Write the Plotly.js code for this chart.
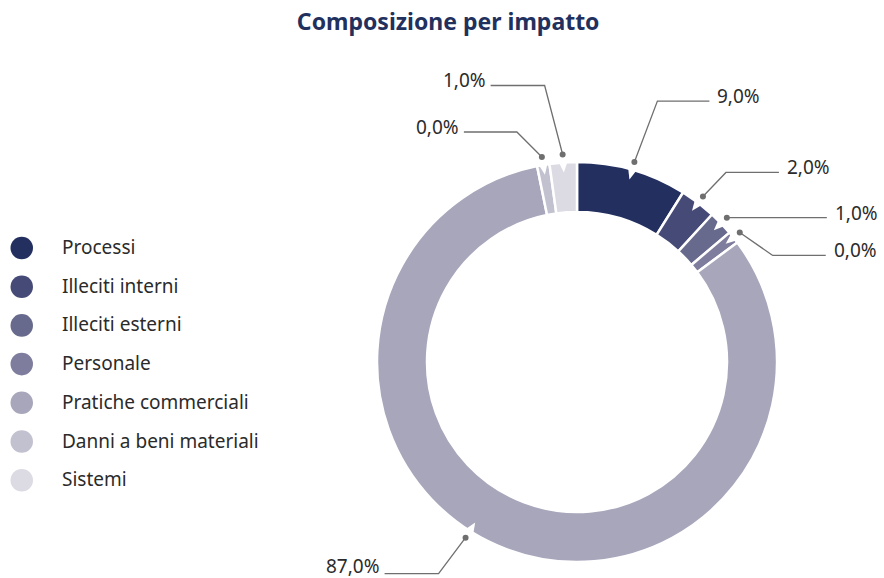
<!DOCTYPE html>
<html>
<head>
<meta charset="utf-8">
<script src="https://cdn.plot.ly/plotly-3.0.1.min.js"></script>
<style>html,body{margin:0;padding:0;background:#fff;}#chart{width:884px;height:578px;}</style>
</head>
<body>
<div id="chart"></div>
<script>
// ---- data ----
const categories = ["Processi", "Illeciti interni", "Illeciti esterni", "Personale", "Pratiche commerciali", "Danni a beni materiali", "Sistemi"];
const values = [8.9, 2.9, 2.0, 1.0, 82.0, 1.0, 2.2];            // slice sizes as drawn
const valueLabels = ["9,0%", "2,0%", "1,0%", "0,0%", "87,0%", "0,0%", "1,0%"]; // printed labels
const colors = ["#222f5f", "#464a77", "#676a8c", "#7e7d9e", "#a7a6bb", "#c2c1d0", "#dcdbe4"];

// ---- layout config (positions only) ----
const W = 884, H = 578;
const cx = 577, cy = 362, R = 200;
const anchorFrac = [0.5, 0.5, 0.5, 0.5, 0.539, 0.5, 0.5];
// leader: [elbow dx, elbow dy, horizontal length] relative to dot (pixels)
const leaders = [[23, -61, 52], [23, -24, 53], [0, 0, 100], [33, 23, 53], [-27, 36, -54], [-25, -25, -53], [-18, -69, -54]];

const px = x => x / W;
const py = y => 1 - y / H;

const shapes = [];
const annotations = [];

// slice angles
const total = values.reduce((a, b) => a + b, 0);
let cum = 0;
values.forEach((v, i) => {
  const a0 = cum / total * 360;
  cum += v;
  const a1 = cum / total * 360;
  const a = (a0 + (a1 - a0) * anchorFrac[i]) * Math.PI / 180;
  const sx = Math.sin(a), sy = -Math.cos(a);
  // notch (white triangle at outer edge)
  const d = 1.4 * Math.PI / 180;
  const p1 = [cx + 202 * Math.sin(a - d), cy - 202 * Math.cos(a - d)];
  const p2 = [cx + 202 * Math.sin(a + d), cy - 202 * Math.cos(a + d)];
  const p3 = [cx + 190 * sx, cy + 190 * sy];
  shapes.push({type: "path", xref: "paper", yref: "paper",
    path: `M${px(p1[0])},${py(p1[1])} L${px(p2[0])},${py(p2[1])} L${px(p3[0])},${py(p3[1])} Z`,
    fillcolor: "#ffffff", line: {width: 0}});
  // dot
  const dx = cx + 208 * sx, dy = cy + 208 * sy;
  shapes.push({type: "circle", xref: "paper", yref: "paper",
    x0: px(dx - 3), x1: px(dx + 3), y0: py(dy + 3), y1: py(dy - 3),
    fillcolor: "#6f6f6f", line: {width: 0}});
  // leader line
  const [ex, ey, hl] = leaders[i];
  const e = [dx + ex, dy + ey];
  const f = [e[0] + hl, e[1]];
  shapes.push({type: "path", xref: "paper", yref: "paper",
    path: `M${px(dx)},${py(dy)} L${px(e[0])},${py(e[1])} L${px(f[0])},${py(f[1])}`,
    line: {color: "#6f6f6f", width: 1.3}});
  const ly = Math.min(f[1] - 5, 566);
  annotations.push({xref: "paper", yref: "paper", showarrow: false,
    x: px(f[0] + (hl > 0 ? 6 : -3)), y: py(ly),
    xanchor: hl > 0 ? "left" : "right", yanchor: "middle",
    text: valueLabels[i],
    font: {family: "Noto Sans, sans-serif", size: 19, color: "#2b2b2b"}});
});

// custom legend (circles + names)
categories.forEach((c, i) => {
  const ly = 248 + i * 38.7;
  shapes.push({type: "circle", xref: "paper", yref: "paper",
    x0: px(10.5), x1: px(33), y0: py(ly + 11.3), y1: py(ly - 11.3),
    fillcolor: colors[i], line: {width: 0}});
  annotations.push({xref: "paper", yref: "paper", showarrow: false,
    x: px(60), y: py(ly - 1), xanchor: "left", yanchor: "middle",
    text: c, font: {family: "Noto Sans, sans-serif", size: 19, color: "#2b2b2b"}});
});

const trace = {
  type: "pie",
  labels: categories,
  values: values,
  sort: false,
  direction: "clockwise",
  rotation: 0,
  hole: 0.75,
  textinfo: "none",
  hoverinfo: "label",
  marker: {colors: colors, line: {color: "#ffffff", width: 2.5}},
  domain: {x: [(cx - R) / W, (cx + R) / W], y: [(H - cy - R) / H, (H - cy + R) / H]},
  showlegend: false
};

const layout = {
  width: W, height: H,
  margin: {l: 0, r: 0, t: 0, b: 0},
  paper_bgcolor: "#ffffff",
  showlegend: false,
  title: {text: "<b>Composizione per impatto</b>", x: 0.507, xanchor: "center", y: 1 - 22 / H, yanchor: "middle",
    font: {family: "Noto Sans, sans-serif", size: 23, color: "#22305e"}},
  shapes: shapes,
  annotations: annotations
};

Plotly.newPlot("chart", [trace], layout, {displayModeBar: false});
</script>
</body>
</html>
